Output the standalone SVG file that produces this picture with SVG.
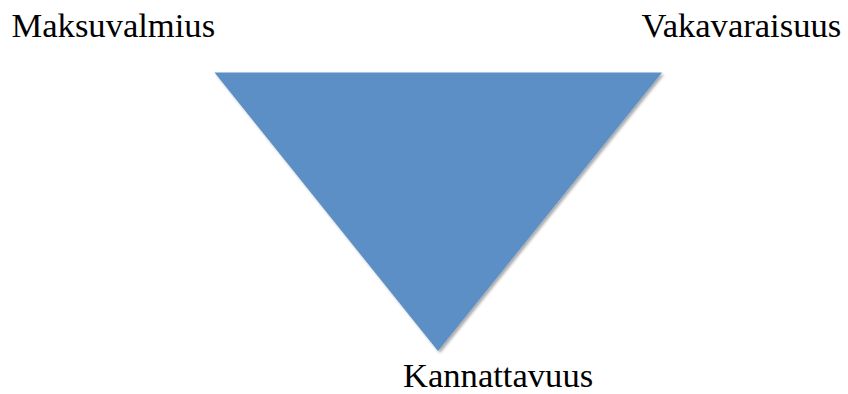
<svg xmlns="http://www.w3.org/2000/svg" width="848" height="394" viewBox="0 0 848 394">
<style>
.lbl{font-family:"Liberation Serif","Times New Roman",serif;font-size:34.6px;fill:#000}
</style>
<defs>
<filter id="sh" x="-10%" y="-10%" width="120%" height="120%">
<feGaussianBlur in="SourceAlpha" stdDeviation="1.5"/>
<feOffset dx="1.5" dy="1.5" result="b"/>
<feComponentTransfer><feFuncA type="linear" slope="0.35"/></feComponentTransfer>
<feMerge><feMergeNode/><feMergeNode in="SourceGraphic"/></feMerge>
</filter>
</defs>
<rect width="848" height="394" fill="#fff"/>
<g id="triangle">
<polygon points="214.5,72.5 662,72.5 438,351" fill="#5B8FC5" filter="url(#sh)"/>
</g>
<g id="maksuvalmius"><text class="lbl" x="11.5" y="37">Maksuvalmius</text></g>
<g id="vakavaraisuus"><text class="lbl" x="641.5" y="37">Vakavaraisuus</text></g>
<g id="kannattavuus"><text class="lbl" x="403" y="387">Kannattavuus</text></g>
<g id="connectors"/>
</svg>
